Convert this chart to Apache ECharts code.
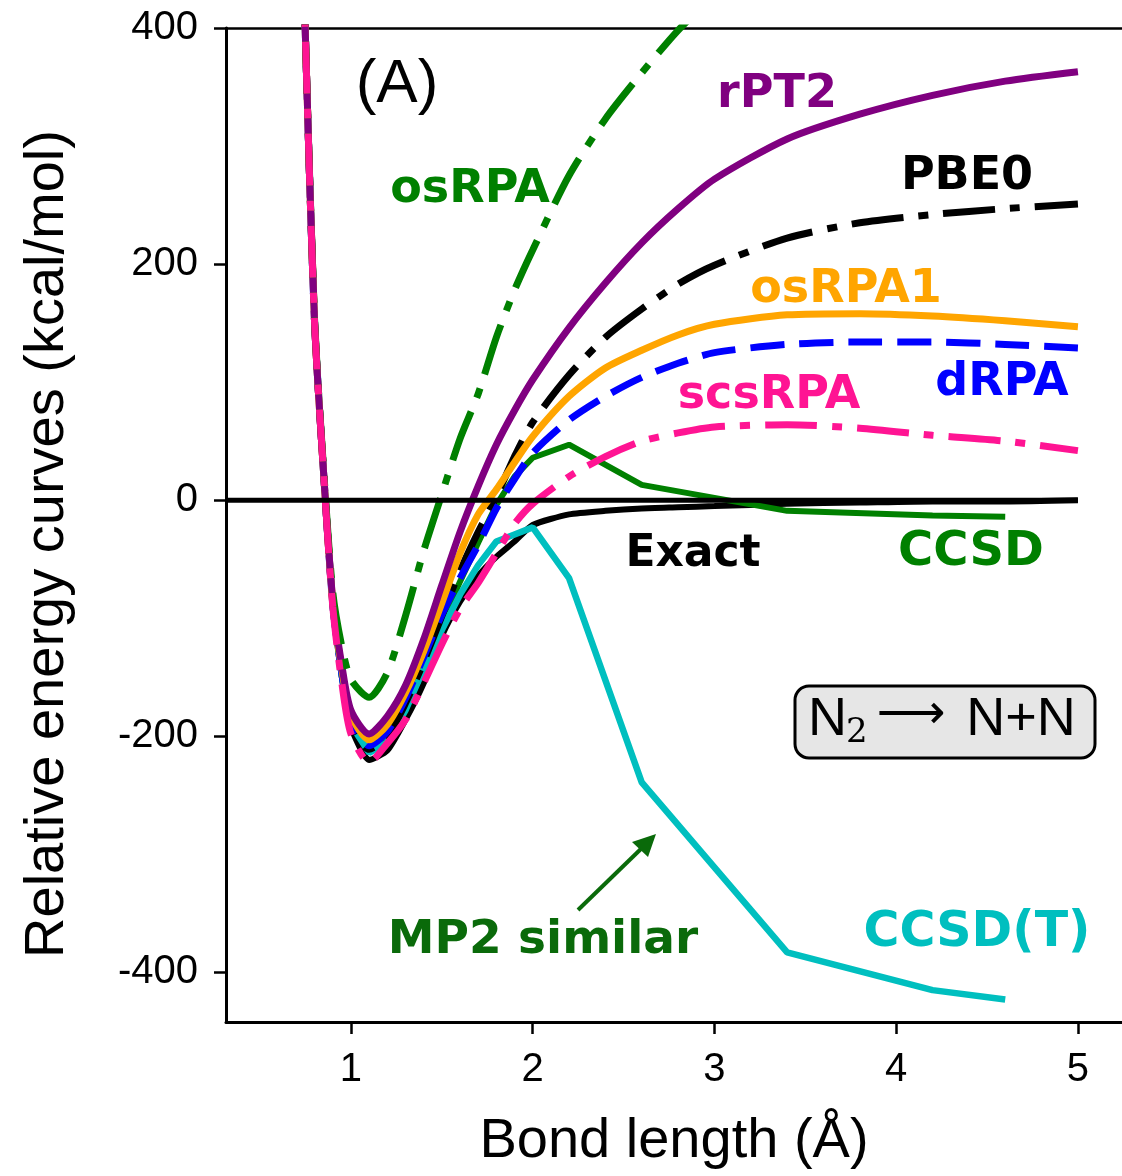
<!DOCTYPE html>
<html>
<head>
<meta charset="utf-8">
<title>N2 dissociation curves</title>
<script src="https://cdn.jsdelivr.net/npm/echarts@6/dist/echarts.min.js"></script>
<style>
  html, body { margin: 0; padding: 0; background: #fff; }
  #chart { width: 1122px; height: 1176px; }
</style>
</head>
<body>
<div id="chart"></div>
<script>
// bond lengths (Å) used by most methods
const bondX = [0.7, 0.75, 0.8, 0.85, 0.9, 0.95, 1.0, 1.1, 1.2, 1.3, 1.4, 1.5, 1.6, 1.7, 1.8, 1.9, 2.0, 2.2, 2.4, 2.6, 2.8, 3.0, 3.4, 3.8, 4.2, 4.6, 5.0];
// bond lengths for the coupled-cluster curves
const ccX = [0.7, 0.75, 0.8, 0.85, 0.9, 0.95, 1.0, 1.1, 1.2, 1.3, 1.4, 1.5, 1.6, 1.7, 1.8, 1.9, 2.0, 2.2, 2.6, 3.4, 4.2, 4.6];

// relative energies (kcal/mol)
const exact  = [700, 390, 150, 22, -88, -150, -192, -220, -212, -186, -155, -115, -86, -64, -48, -35, -21, -12, -9, -7, -6, -5, -3, -2, -1, -1, 0];
const osRPA  = [700, 390, 152, 25, -78, -124, -152, -167, -146, -98, -43, 5, 52, 90, 138, 178, 212, 275, 323, 362, 398, 428, null, null, null, null, null];
const rPT2   = [700, 390, 150, 22, -85, -140, -178, -198, -183, -157, -118, -72, -27, 12, 47, 76, 102, 146, 184, 218, 247, 272, 306, 327, 343, 355, 363];
const pbe0   = [700, 390, 150, 22, -88, -148, -188, -211, -200, -172, -137, -98, -60, -27, 3, 37, 66, 106, 138, 162, 183, 199, 222, 235, 242, 247, 251];
const osRPA1 = [700, 390, 150, 22, -86, -143, -182, -203, -190, -163, -128, -87, -45, -12, 9, 32, 54, 88, 112, 127, 140, 149, 157, 158, 156, 152, 147];
const dRPA   = [700, 390, 150, 22, -88, -147, -187, -208, -196, -168, -133, -97, -66, -38, -7, 18, 40, 68, 88, 104, 116, 125, 132, 134, 134, 132, 129];
const scsRPA = [700, 390, 150, 22, -90, -155, -198, -222, -206, -186, -155, -122, -92, -70, -45, -20, -3, 20, 37, 50, 57, 62, 64, 61, 55, 50, 42];
const ccsd   = [700, 390, 150, 22, -88, -149, -190, -213, -204, -176, -141, -104, -69, -36, -4, 20, 36, 47, 13, -9, -13, -14];
const ccsdT  = [700, 390, 150, 22, -88, -149, -190, -214, -205, -178, -143, -110, -80, -55, -35, -29, -23, -66, -239, -383, -415, -423];

// axis ticks
const xTicks = [1, 2, 3, 4, 5];
const yTicks = [-400, -200, 0, 200, 400];
const xRange = [0.3125, 5.2425];
const yRange = [-442, 400];
const zeroLineX = [xRange[0], 5];

const pair = (xs, ys) => xs.map((x, i) => [x, ys[i]]);

const curve = (name, xs, ys, color, width, dash, smooth) => ({
  name: name,
  type: 'line',
  data: pair(xs, ys),
  showSymbol: false,
  symbol: 'none',
  smooth: smooth,
  connectNulls: false,
  lineStyle: { color: color, width: width, type: dash, cap: 'butt' },
  silent: true
});

const dashDot = [52, 15, 10, 15];
const dashed = [34, 15];

const label = (text, x, y, color, size) => ({
  type: 'text',
  x: x, y: y,
  style: {
    text: text,
    fill: color,
    font: 'bold ' + (size || 46) + 'px "DejaVu Sans", sans-serif',
    textAlign: 'center',
    textVerticalAlign: 'middle'
  }
});

const chart = echarts.init(document.getElementById('chart'));
chart.setOption({
  animation: false,
  backgroundColor: '#fff',
  grid: { left: 226, top: 28, right: 0, bottom: 154 },
  xAxis: [
    {
      type: 'value',
      min: xRange[0], max: xRange[1],
      name: 'Bond length (Å)',
      nameLocation: 'middle',
      nameGap: 92,
      nameTextStyle: { fontSize: 56, color: '#000', fontFamily: 'Liberation Sans' },
      axisLine: { onZero: false, lineStyle: { color: '#000', width: 3 } },
      axisTick: { show: true, length: 12, customValues: xTicks, lineStyle: { color: '#000', width: 2.5 } },
      axisLabel: { customValues: xTicks, fontSize: 40, color: '#000', margin: 28, fontFamily: 'Liberation Sans' },
      splitLine: { show: false }
    },
    {
      // top spine only
      type: 'value',
      position: 'top',
      min: xRange[0], max: xRange[1],
      axisLine: { show: true, onZero: false, lineStyle: { color: '#000', width: 2.5 } },
      axisTick: { show: false },
      axisLabel: { show: false },
      splitLine: { show: false }
    }
  ],
  yAxis: {
    type: 'value',
    min: yRange[0], max: yRange[1],
    axisLine: { onZero: false, lineStyle: { color: '#000', width: 3 } },
    axisTick: { show: true, length: 12, customValues: yTicks, lineStyle: { color: '#000', width: 2.5 } },
    axisLabel: { customValues: yTicks, fontSize: 40, color: '#000', margin: 28, fontFamily: 'Liberation Sans' },
    splitLine: { show: false }
  },
  series: [
    curve('Exact', bondX, exact, '#000000', 6, 'solid', 0.2),
    curve('CCSD', ccX, ccsd, '#008000', 6, 'solid', false),
    curve('CCSD(T)', ccX, ccsdT, '#00BFBF', 6.5, 'solid', false),
    curve('PBE0', bondX, pbe0, '#000000', 7, dashDot, 0.25),
    curve('dRPA', bondX, dRPA, '#0000FF', 7, dashed, 0.25),
    curve('osRPA1', bondX, osRPA1, '#FFA500', 7, 'solid', 0.25),
    curve('rPT2', bondX, rPT2, '#800080', 7, 'solid', 0.25),
    curve('osRPA', bondX, osRPA, '#008000', 7, dashDot, 0.25),
    curve('scsRPA', bondX, scsRPA, '#FF1493', 7, dashDot, 0.25),
    {
      name: 'zero',
      type: 'line',
      data: pair(zeroLineX, [0, 0]),
      symbol: 'none',
      lineStyle: { color: '#000', width: 5 },
      silent: true,
      z: 5
    }
  ],
  graphic: [
    {
      type: 'text', x: 48, y: 544, rotation: Math.PI / 2,
      style: { text: 'Relative energy curves (kcal/mol)', fill: '#000', font: '56px "Liberation Sans", sans-serif', textAlign: 'center', textVerticalAlign: 'middle' }
    },
    {
      type: 'text', x: 397, y: 85,
      style: { text: '(A)', fill: '#000', font: '62px "Liberation Sans", sans-serif', textAlign: 'center', textVerticalAlign: 'middle' }
    },
    label('osRPA', 470, 190, '#008000'),
    label('rPT2', 777, 95, '#800080'),
    label('PBE0', 967, 177, '#000000'),
    label('osRPA1', 846, 290, '#FFA500'),
    label('dRPA', 1002, 383, '#0000FF'),
    label('scsRPA', 769, 396, '#FF1493'),
    label('Exact', 693, 555, '#000000', 44),
    label('CCSD', 971, 553, '#008000', 48),
    label('MP2 similar', 543, 941, '#0A6A0A', 47),
    label('CCSD(T)', 977, 933, '#00BFBF', 49),
    // arrow towards the CCSD(T) curve
    {
      type: 'line',
      shape: { x1: 578, y1: 910, x2: 645, y2: 845 },
      style: { stroke: '#0A6A0A', lineWidth: 4 }
    },
    {
      type: 'polygon',
      shape: { points: [[656, 834], [648, 857], [632, 842]] },
      style: { fill: '#0A6A0A' }
    },
    // reaction box
    {
      type: 'rect',
      shape: { x: 795, y: 686, width: 300, height: 72, r: 14 },
      style: { fill: '#E6E6E6', stroke: '#000', lineWidth: 3 }
    },
    {
      type: 'text', x: 808, y: 720,
      style: { text: 'N', fill: '#000', font: '54px "Liberation Sans", sans-serif', textAlign: 'left', textVerticalAlign: 'middle' }
    },
    {
      type: 'text', x: 846, y: 733,
      style: { text: '2', fill: '#000', font: '34px "DejaVu Serif", serif', textAlign: 'left', textVerticalAlign: 'middle' }
    },
    {
      type: 'text', x: 911, y: 716,
      style: { text: '⟶', fill: '#000', font: '48px "DejaVu Sans", sans-serif', textAlign: 'center', textVerticalAlign: 'middle' }
    },
    {
      type: 'text', x: 1021, y: 720,
      style: { text: 'N+N', fill: '#000', font: '54px "Liberation Sans", sans-serif', textAlign: 'center', textVerticalAlign: 'middle' }
    }
  ]
});
</script>
</body>
</html>
